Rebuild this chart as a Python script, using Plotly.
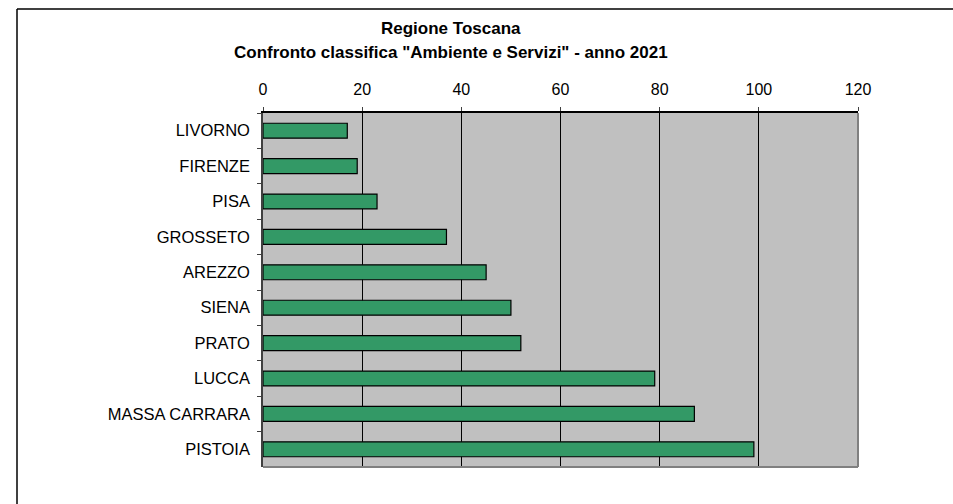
import plotly.graph_objects as go

categories = ["LIVORNO", "FIRENZE", "PISA", "GROSSETO", "AREZZO", "SIENA",
              "PRATO", "LUCCA", "MASSA CARRARA", "PISTOIA"]
values = [17, 19, 23, 37, 45, 50, 52, 79, 87, 99]
x_ticks = [0, 20, 40, 60, 80, 100, 120]
title_lines = ["Regione Toscana",
               "Confronto classifica \"Ambiente e Servizi\" - anno 2021"]

W, H = 953, 504
L, R, T, B = 263, 95, 113, 37
PW, PH = W - L - R, H - T - B
FONT = "Liberation Sans, Arial, sans-serif"

fig = go.Figure()
fig.add_trace(go.Bar(
    y=categories, x=values, orientation="h", width=0.42,
    marker=dict(color="#339966", line=dict(color="#000000", width=1.2)),
    hoverinfo="x+y",
))

def py(pix):
    return (H - B - pix) / PH

def px(pix):
    return (pix - L) / PW

annotations = [
    dict(text="<b>%s</b>" % title_lines[0], x=px(451), y=py(29), xref="paper", yref="paper",
         xanchor="center", yanchor="middle", showarrow=False,
         font=dict(family=FONT, size=17, color="black")),
    dict(text="<b>%s</b>" % title_lines[1], x=px(451), y=py(52), xref="paper", yref="paper",
         xanchor="center", yanchor="middle", showarrow=False,
         font=dict(family=FONT, size=17, color="black")),
]

shapes = [
    # outer chart border (top and left edges visible)
    dict(type="line", xref="paper", yref="paper", x0=px(17), y0=py(9), x1=px(953), y1=py(9),
         line=dict(color="#000000", width=1.5), layer="above"),
    dict(type="line", xref="paper", yref="paper", x0=px(17), y0=py(9), x1=px(17), y1=py(504),
         line=dict(color="#000000", width=1.5), layer="above"),
    # plot area right & bottom edges (grey)
    dict(type="line", xref="paper", yref="paper", x0=1, x1=1, y0=0, y1=1,
         line=dict(color="#808080", width=2), layer="above"),
    dict(type="line", xref="paper", yref="paper", x0=0, x1=1, y0=0, y1=0,
         line=dict(color="#808080", width=2), layer="above"),
]

fig.update_layout(
    width=W, height=H,
    margin=dict(l=L, r=R, t=T, b=B, pad=0),
    paper_bgcolor="white", plot_bgcolor="#C0C0C0",
    font=dict(family=FONT, size=16, color="black"),
    showlegend=False, bargap=0.58,
    annotations=annotations, shapes=shapes,
    xaxis=dict(side="top", range=[0, 120], tickvals=x_ticks,
               showgrid=True, gridcolor="#000000", gridwidth=1,
               zeroline=False, showline=True, linecolor="#000000", linewidth=1.5,
               ticks="outside", ticklen=4, tickcolor="#404040",
               ticklabelstandoff=6, tickfont=dict(size=16, family=FONT, color="black"),
               fixedrange=True),
    yaxis=dict(categoryorder="array", categoryarray=categories, autorange="reversed",
               showline=True, linecolor="#404040", linewidth=1.5,
               ticks="outside", ticklen=4, tickcolor="#404040", tickson="boundaries",
               ticklabelstandoff=8, tickfont=dict(size=16.5, family=FONT, color="black"),
               showgrid=False, zeroline=False, fixedrange=True),
)

fig.write_html(
    "out.html",
    config={"displayModeBar": False},
    post_script="document.body.style.margin='0';document.body.style.overflow='hidden';",
)
